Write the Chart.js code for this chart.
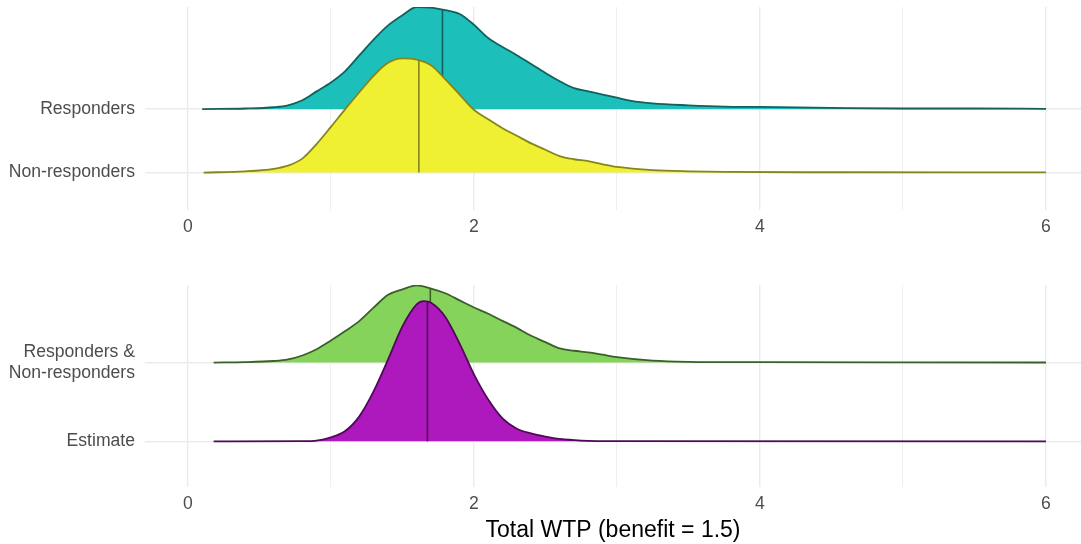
<!DOCTYPE html>
<html lang="en">
  <head>
    <title>Total WTP ridges</title>
    <meta charset="utf-8" />
    <script src="https://cdn.jsdelivr.net/npm/chart.js@4.4.1/dist/chart.umd.min.js"></script>
    <style>
      body { margin: 0; background: #fff; }
      .panel { position: absolute; left: 0; width: 1081px; }
      #top-panel { top: 0; height: 245px; }
      #bottom-panel { top: 245px; height: 299px; }
    </style>
  </head>
  <body>
    <div class="panel" id="top-panel"><canvas id="topChart"></canvas></div>
    <div class="panel" id="bottom-panel"><canvas id="bottomChart"></canvas></div>

    <script>
      // x grid (WTP) and ridge heights, heights in units of row spacing
      var respX = [0.10, 0.40, 0.60, 0.70, 0.80, 0.90, 1.00, 1.10, 1.20, 1.30, 1.40, 1.50, 1.60, 1.70, 1.80, 1.90, 2.00, 2.10, 2.20, 2.30, 2.40, 2.50, 2.60, 2.70, 2.80, 2.90, 3.00, 3.10, 3.25, 3.50, 3.75, 4.00, 4.50, 5.00, 5.50, 6.00];
      var respH = [0, 0.01, 0.03, 0.06, 0.14, 0.28, 0.42, 0.60, 0.85, 1.10, 1.32, 1.48, 1.61, 1.60, 1.56, 1.50, 1.33, 1.12, 0.98, 0.85, 0.71, 0.57, 0.44, 0.33, 0.28, 0.23, 0.18, 0.13, 0.09, 0.06, 0.04, 0.035, 0.02, 0.01, 0.01, 0.005];

      var nonrespX = [0.11, 0.40, 0.60, 0.70, 0.80, 0.90, 1.00, 1.10, 1.20, 1.30, 1.40, 1.50, 1.60, 1.70, 1.80, 1.90, 2.00, 2.10, 2.20, 2.30, 2.40, 2.50, 2.60, 2.70, 2.80, 2.90, 3.00, 3.25, 3.50, 3.75, 4.50, 6.00];
      var nonrespH = [0, 0.02, 0.06, 0.11, 0.22, 0.45, 0.72, 1.00, 1.27, 1.53, 1.73, 1.80, 1.78, 1.69, 1.47, 1.23, 0.99, 0.84, 0.70, 0.58, 0.46, 0.36, 0.26, 0.21, 0.18, 0.13, 0.09, 0.04, 0.02, 0.01, 0.005, 0.003];

      var pooledX = [0.18, 0.40, 0.60, 0.70, 0.80, 0.90, 1.00, 1.10, 1.20, 1.30, 1.40, 1.50, 1.60, 1.70, 1.80, 1.90, 2.00, 2.10, 2.20, 2.30, 2.40, 2.50, 2.60, 2.70, 2.80, 2.90, 3.00, 3.25, 3.50, 4.00, 5.00, 6.00];
      var pooledH = [0, 0.005, 0.02, 0.04, 0.09, 0.17, 0.28, 0.40, 0.53, 0.70, 0.86, 0.93, 0.98, 0.94, 0.88, 0.79, 0.70, 0.62, 0.53, 0.44, 0.34, 0.26, 0.18, 0.15, 0.13, 0.10, 0.07, 0.025, 0.01, 0.005, 0.002, 0.001];

      var estX = [0.18, 0.80, 0.90, 1.00, 1.10, 1.20, 1.30, 1.40, 1.50, 1.60, 1.65, 1.70, 1.80, 1.90, 2.00, 2.10, 2.20, 2.30, 2.40, 2.50, 2.60, 2.75, 3.00, 6.00];
      var estH = [0, 0.003, 0.01, 0.05, 0.13, 0.32, 0.64, 1.04, 1.46, 1.74, 1.78, 1.76, 1.58, 1.24, 0.85, 0.53, 0.29, 0.16, 0.10, 0.06, 0.03, 0.01, 0.002, 0];

      var topLabels = ["Non-responders", "Responders"];
      var bottomLabels = ["Estimate", ["Responders &", "Non-responders"]];
      var topMedians = [1.615, 1.78];
      var bottomMedians = [1.675, 1.695];
      var xTicks = [0, 1, 2, 3, 4, 5, 6];

      var FONT = "'Liberation Sans', Arial, sans-serif";
      var GRID = "#ebebeb";

      function heightAt(xs, hs, x) {
        for (var i = 1; i < xs.length; i++) {
          if (x <= xs[i]) {
            var t = (x - xs[i - 1]) / (xs[i] - xs[i - 1]);
            return hs[i - 1] + t * (hs[i] - hs[i - 1]);
          }
        }
        return hs[hs.length - 1];
      }

      // one ridge = filled curve + median segment
      function ridge(xs, hs, base, median, fill, stroke, order) {
        var pts = xs.map(function (x, i) { return { x: x, y: base + hs[i] }; });
        var top = base + heightAt(xs, hs, median);
        return [
          {
            data: pts,
            fill: { value: base },
            backgroundColor: fill,
            borderColor: stroke,
            borderWidth: 1.8,
            pointRadius: 0,
            cubicInterpolationMode: "monotone",
            order: order + 1,
          },
          {
            data: [{ x: median, y: base }, { x: median, y: top }],
            fill: false,
            borderColor: stroke,
            borderWidth: 1.6,
            pointRadius: 0,
            order: order,
          },
        ];
      }

      function makeChart(id, datasets, labels, yMin, yMax, padTop, xHeight, showTitle) {
        return new Chart(document.getElementById(id), {
          type: "line",
          data: { datasets: datasets },
          options: {
            responsive: true,
            maintainAspectRatio: false,
            animation: false,
            layout: { padding: { top: padTop, left: 0, right: 0, bottom: 0 } },
            plugins: { legend: { display: false }, tooltip: { enabled: false } },
            scales: {
              x: {
                type: "linear",
                min: -0.30,
                max: 6.245,
                afterBuildTicks: function (scale) {
                  scale.ticks = xTicks.map(function (v) { return { value: v }; });
                },
                afterFit: function (scale) {
                  scale.height = xHeight;
                  scale.paddingLeft = 0;
                  scale.paddingRight = 0;
                },
                grid: {
                  color: GRID,
                  lineWidth: function (ctx) {
                    return ctx.tick && ctx.tick.value % 2 === 0 ? 1.4 : 0.8;
                  },
                  drawTicks: false,
                },
                border: { display: false },
                ticks: {
                  padding: 7,
                  color: "#4d4d4d",
                  font: { family: FONT, size: 17.6 },
                  maxRotation: 0,
                  callback: function (v) { return v % 2 === 0 ? String(v) : ""; },
                },
                title: {
                  display: showTitle,
                  text: "Total WTP (benefit = 1.5)",
                  color: "#000",
                  font: { family: FONT, size: 23 },
                  padding: { top: 0, bottom: 0 },
                },
              },
              y: {
                type: "linear",
                min: yMin,
                max: yMax,
                afterBuildTicks: function (scale) {
                  scale.ticks = [{ value: 1 }, { value: 2 }];
                },
                afterFit: function (scale) {
                  scale.width = 145;
                  scale.paddingTop = 0;
                  scale.paddingBottom = 0;
                },
                grid: { color: GRID, lineWidth: 1.6, drawTicks: false },
                border: { display: false },
                ticks: {
                  padding: 10,
                  color: "#4d4d4d",
                  font: { family: FONT, size: 17.6 },
                  callback: function (v) { return labels[v - 1]; },
                },
              },
            },
          },
        });
      }

      var topSets = []
        .concat(ridge(respX, respH, 2, topMedians[1], "#1dbfba", "#13605c", 3))
        .concat(ridge(nonrespX, nonrespH, 1, topMedians[0], "#f0f032", "#85851e", 1));
      var bottomSets = []
        .concat(ridge(pooledX, pooledH, 2, bottomMedians[1], "#86d35c", "#3b5f2a", 3))
        .concat(ridge(estX, estH, 1, bottomMedians[0], "#ad19bd", "#4e0a56", 1));

      makeChart("topChart", topSets, topLabels, 0.41, 3.61, 7, 35, false);
      makeChart("bottomChart", bottomSets, bottomLabels, 0.42, 2.985, 40, 57, true);
    </script>
  </body>
</html>
